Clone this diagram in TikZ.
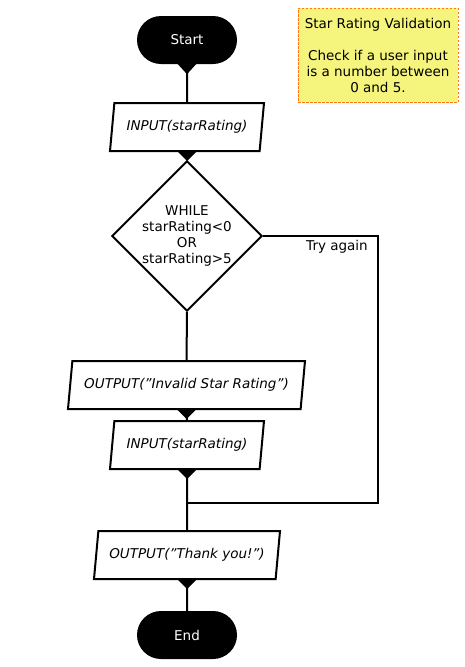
\documentclass[tikz,border=0pt]{standalone}
\usepackage{fontspec}
\setmainfont{DejaVu Sans}
\usetikzlibrary{shapes.geometric}

\definecolor{notefill}{RGB}{245,245,125}
\definecolor{noteline}{RGB}{255,120,20}
\newcommand{\qt}{\symbol{34}}

\tikzset{
    terminal/.style={rectangle, rounded corners=24pt, fill=black, text=white,
        minimum width=100pt, minimum height=48pt, inner sep=0pt},
    io/.style={trapezium, trapezium left angle=71.5, trapezium right angle=108.5,
        trapezium stretches body, draw, line width=2pt, minimum height=48pt,
        inner sep=0pt, font=\itshape\fontsize{13.5}{16}\selectfont},
    decision/.style={diamond, draw, line width=2pt, minimum width=150pt,
        minimum height=150pt, inner sep=0pt, align=center},
    flow/.style={line width=2pt},
}

\begin{document}
\begin{tikzpicture}[x=1pt, y=-1pt, font=\fontsize{13.5}{16}\selectfont]
    \useasboundingbox (0,0) rectangle (465,667);
    % Shapes
    \node[terminal] (start) at (187,40) {Start};
    \node[io, minimum width=154pt] (in1) at (187,127) {INPUT(starRating)};
    \node[decision] (loop) at (187,236) {WHILE\\starRating<0\\OR\\starRating>5};
    \node[io, minimum width=237pt] (out1) at (186.5,385) {OUTPUT(\qt Invalid Star Rating\qt)};
    \node[io, minimum width=154pt] (in2) at (187,445) {INPUT(starRating)};
    \node[io, minimum width=186pt] (out2) at (187,555) {OUTPUT(\qt Thank you!\qt)};
    \node[terminal] (end) at (187,635) {End};
    % Note
    \node[draw=noteline, fill=notefill, dash pattern=on 2.5pt off 1.5pt, line width=1pt,
        minimum width=160pt, minimum height=94pt, align=center] (note) at (378,55)
        {Star Rating Validation\\[16pt]Check if a user input\\is a number between\\0 and 5.};
    % Little tips under the shapes
    \fill (start.south) ++(-10,-1) -- ++(20,0) -- ++(-10,11) -- cycle;
    \fill (in1.south) ++(-9,0) -- ++(18,0) -- ++(-9,9) -- cycle;
    \fill (out1.south) ++(-9,0) -- ++(18,0) -- ++(-9,9) -- cycle;
    \fill (in2.south) ++(-9,0) -- ++(18,0) -- ++(-9,9) -- cycle;
    \fill (out2.south) ++(-9,0) -- ++(18,0) -- ++(-9,9) -- cycle;
    % Connectors
    \coordinate (merge) at (187,503);
    \coordinate (turn) at (378,503);
    \draw[flow] (start.south) -- (in1.north);
    \draw[flow] (in1.south) -- (loop.north);
    \draw[flow] (loop.south) -- (out1.north);
    \draw[flow] (out1.south) -- (in2.north);
    \draw[flow] (in2.south) -- (out2.north);
    \draw[flow] (out2.south) -- (end.north);
    \draw[flow] (loop.east) -| (turn) -- (merge);
    \node (again) at (337,246.5) {Try again};
\end{tikzpicture}
\end{document}
